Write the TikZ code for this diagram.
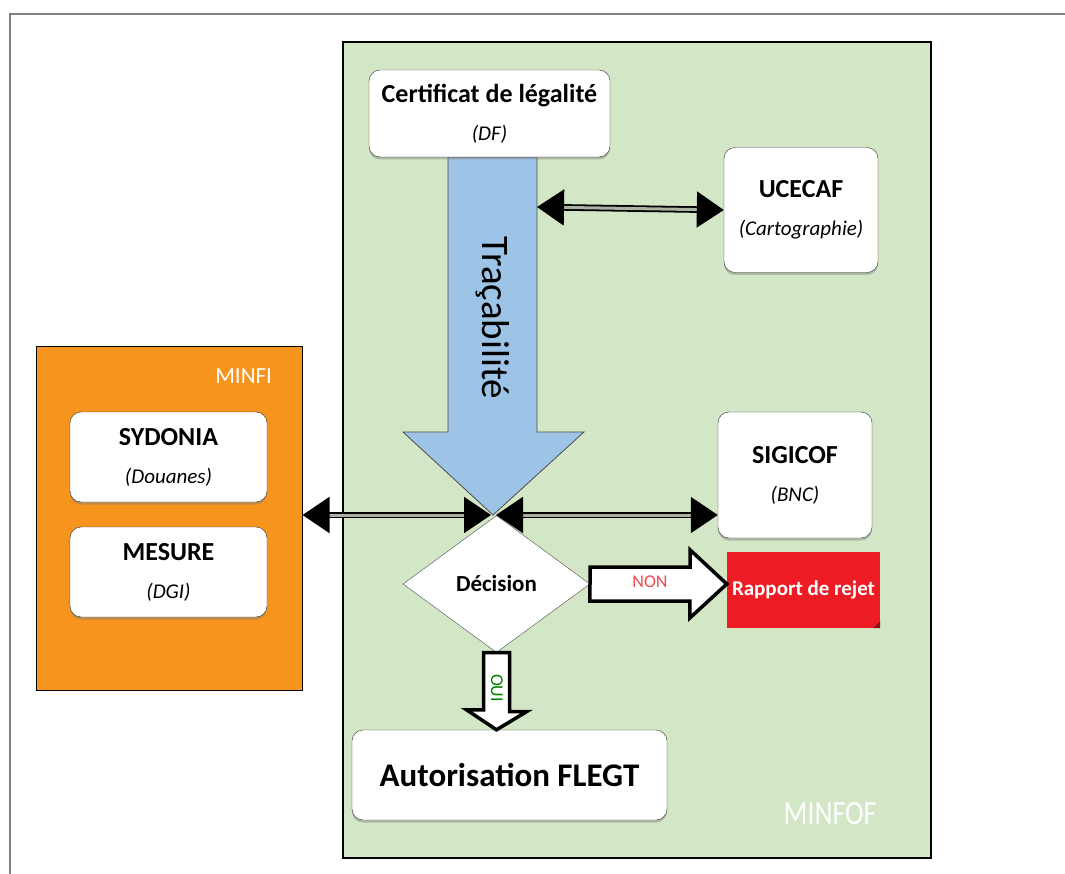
\documentclass[tikz,border=0pt]{standalone}
\usepackage{fontspec}
\setmainfont{Carlito}
\usetikzlibrary{shapes.geometric,arrows.meta,shadows}
\definecolor{vert}{RGB}{211,230,197}
\definecolor{orange}{RGB}{247,148,29}
\definecolor{bleu}{RGB}{157,195,230}
\definecolor{rouge}{RGB}{237,28,36}
\begin{document}
\begin{tikzpicture}[x=1pt,y=-1pt,
                    boite/.style = {draw=black!80, fill=white, rounded corners=11pt, align=center,
                            inner sep=0pt, font=\fontsize{21}{38}\selectfont,
                            drop shadow={shadow xshift=0pt, shadow yshift=-2.5pt, opacity=0.45}},
                    lien/.style = {draw=black, line width=1.8pt, double=vert!50!gray, double distance=3pt,
                            {Triangle[length=27pt,width=36pt]}-{Triangle[length=27pt,width=36pt]}},
                    bloc/.style = {draw=black, line width=3.5pt, fill=white, line join=miter}]
\useasboundingbox (0,0) rectangle (1065,874);
\draw[gray, line width=2.5pt] (10,14) rectangle (1090,900);
\node[draw=black, line width=1.3pt, fill=vert, minimum width=588, minimum height=816] (minfof) at (637,450) {};
\node[draw=black, line width=1pt, fill=orange, minimum width=266, minimum height=343] (minfi) at (169,518.5) {};
\node[text=white, font=\fontsize{23}{24}\selectfont, anchor=east] (nminfi) at (minfi.north east) [xshift=-27, yshift=-30] {MINFI};
\node[text=white, font=\fontsize{34}{36}\selectfont\addfontfeatures{FakeStretch=0.82}] (nminfof) at (830,814) {MINFOF};
\draw[fill=bleu, draw=black!70, line width=0.8pt] (448,157) -- (537,157) -- (537,432) -- (584,432)
      -- (493,515) coordinate (tip) -- (403,432) -- (448,432) -- cycle;
\coordinate (flanc) at (537,207);
\node[rotate=-90, font=\fontsize{39}{40}\selectfont] (trace) at (493,318) {Traçabilité};
\node[boite, minimum width=241, minimum height=87] (cert) at (489.5,113.5)
      {\textbf{\fontsize{26}{30}\selectfont Certificat de légalité}\\\textit{(DF)}};
\node[boite, minimum width=154, minimum height=125] (ucecaf) at (801,210)
      {\textbf{\fontsize{26}{30}\selectfont UCECAF}\\\textit{(Cartographie)}};
\node[boite, minimum width=154, minimum height=126] (sigicof) at (795,475)
      {\textbf{\fontsize{26}{30}\selectfont SIGICOF}\\\textit{(BNC)}};
\node[boite, minimum width=197, minimum height=90] (sydonia) at (168.5,457)
      {\textbf{\fontsize{26}{30}\selectfont SYDONIA}\\\textit{(Douanes)}};
\node[boite, minimum width=197, minimum height=90] (mesure) at (168.5,572)
      {\textbf{\fontsize{26}{30}\selectfont MESURE}\\\textit{(DGI)}};
\node[boite, minimum width=315, minimum height=90, font=\fontsize{33}{36}\selectfont\bfseries] (flegt) at (509.5,775)
      {Autorisation FLEGT};
\node[diamond, draw=black!70, fill=white, minimum width=187, minimum height=137, inner sep=0pt,
      font=\fontsize{23}{24}\selectfont\bfseries] (decision) at (496.5,584) {Décision};
\node[fill=rouge, minimum width=153, minimum height=76, inner sep=0pt, text=white,
      font=\fontsize{21}{24}\selectfont\bfseries] (rejet) at (803.5,590) {Rapport de rejet};
\fill[rouge!60!black] (rejet.south east) -- ++(-7,0) -- ++(7,-7) -- cycle;
\draw[lien] (flanc) -- (ucecaf.west);
\draw[lien, shorten >=2pt] (tip -| minfi.east) -- (tip);
\draw[lien, shorten <=3pt] (tip) -- (tip -| sigicof.west);
\draw[bloc] (decision.east) ++(0,-17) -- ++(100,0) -- ++(0,-17) -- (rejet.west |- decision.east)
      -- ++(-37,34) -- ++(0,-17) -- ++(-100,0) -- cycle;
\node[text=rouge!80, font=\fontsize{18}{18}\selectfont] (non) at (650,582) {NON};
\draw[bloc] (decision.south) ++(-13,0) -- ++(26,0) -- ++(0,59) -- ++(17,0) -- (decision.south |- flegt.north)
      -- ++(-30,-20) -- ++(17,0) -- ++(0,-59) -- cycle;
\node[rotate=-90, text=green!50!black, font=\fontsize{18}{18}\selectfont] (oui) at (497,688) {OUI};
\end{tikzpicture}
\end{document}
